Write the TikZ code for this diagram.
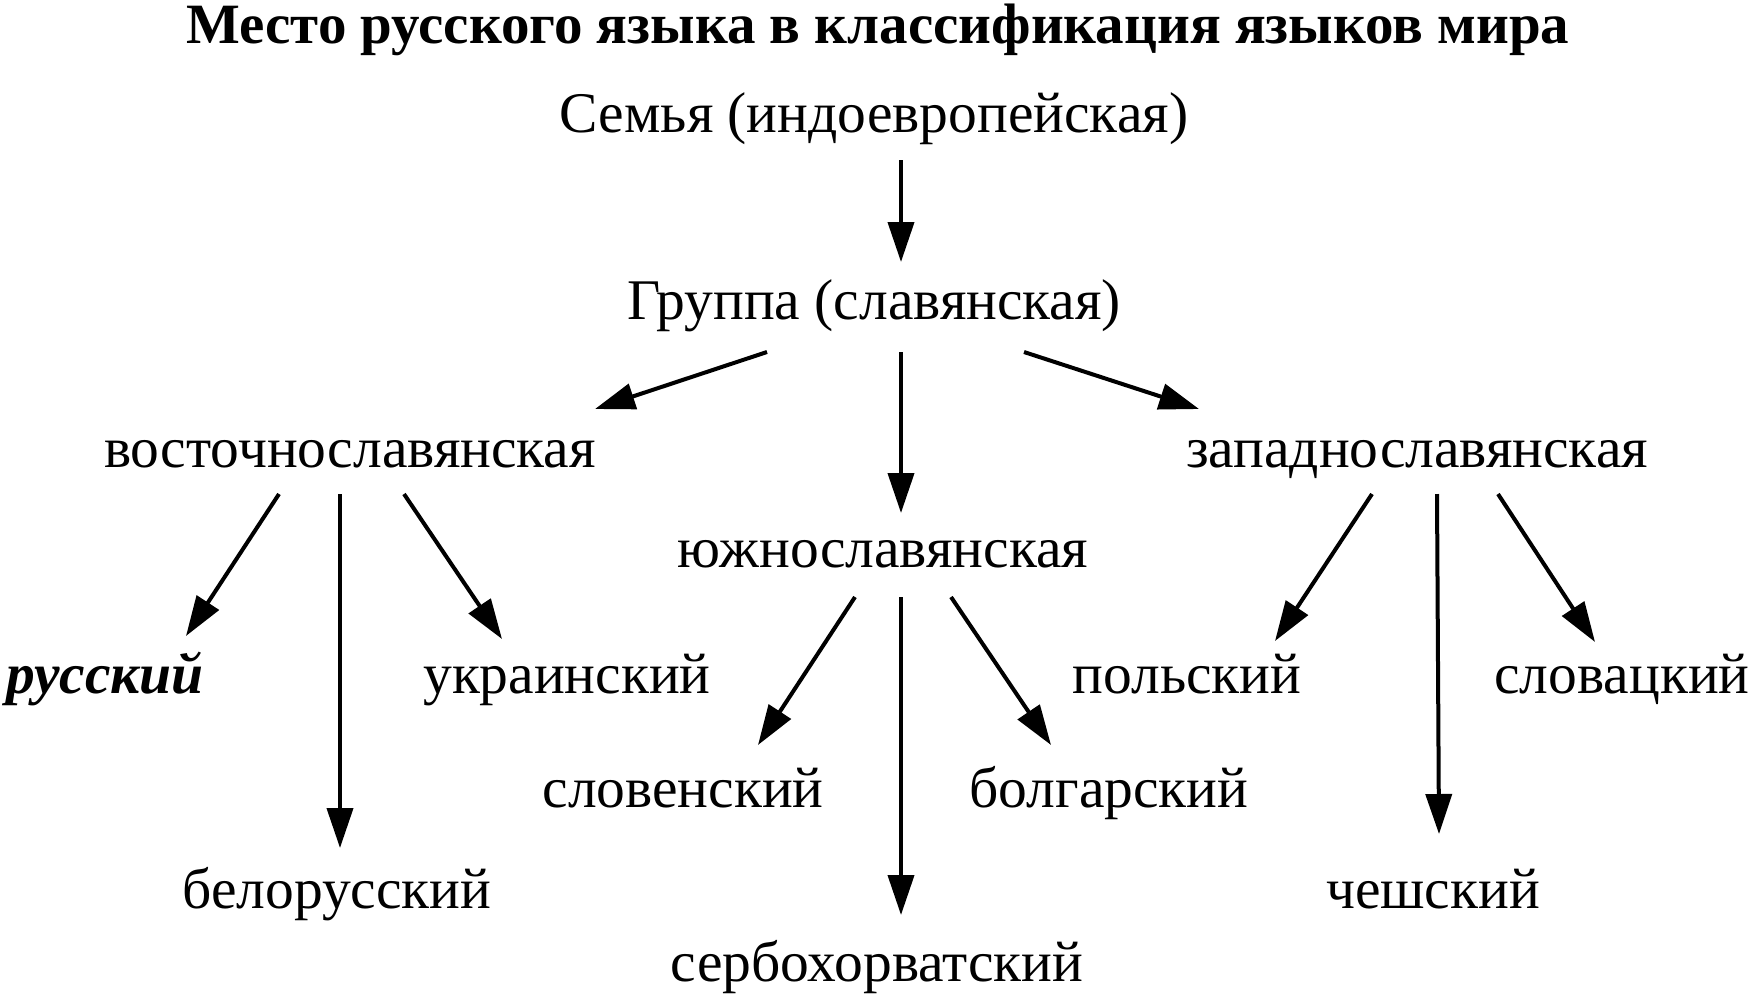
\documentclass[tikz,border=0pt]{standalone}
\usepackage{fontspec}
\setmainfont{Liberation Serif}
\usetikzlibrary{arrows.meta}
\begin{document}
\begin{tikzpicture}[x=1pt,y=-1pt,
  lbl/.style={inner sep=0pt, anchor=base, font=\fontsize{57.5}{62}\selectfont},
  ttl/.style={inner sep=0pt, anchor=base, font=\fontsize{57}{62}\selectfont\bfseries},
  arr/.style={line width=4pt, -{Triangle[length=40pt,width=26pt]}}]
\useasboundingbox (0,0) rectangle (1749,997);
\node[ttl] (title) at (878,43) {Место русского языка в классификация языков мира};
\node[lbl] (fam) at (874,132) {Семья (индоевропейская)};
\node[lbl] (grp) at (874,319) {Группа (славянская)};
\node[lbl] (east) at (350,467) {восточнославянская};
\node[lbl] (west) at (1417,467) {западнославянская};
\node[lbl] (south) at (883,567) {южнославянская};
\node[lbl, font=\fontsize{57.5}{62}\selectfont\bfseries\itshape] (rus) at (105,693) {русский};
\node[lbl] (ukr) at (567,693) {украинский};
\node[lbl] (bel) at (337,908) {белорусский};
\node[lbl] (slo) at (683,807) {словенский};
\node[lbl] (bul) at (1109,807) {болгарский};
\node[lbl] (ser) at (877,981) {сербохорватский};
\node[lbl] (pol) at (1187,693) {польский};
\node[lbl] (svk) at (1622,693) {словацкий};
\node[lbl] (cze) at (1433,908) {чешский};
% arrow end points
\coordinate (f1) at (901,160); \coordinate (g0) at (901,262);
\coordinate (g1) at (767,352); \coordinate (e0) at (595,409);
\coordinate (g2) at (901,352); \coordinate (s0) at (901,513);
\coordinate (g3) at (1024,352); \coordinate (w0) at (1199,409);
\coordinate (e1) at (279,494); \coordinate (r0) at (186,636);
\coordinate (e2) at (340,494); \coordinate (b0) at (340,848);
\coordinate (e3) at (404,494); \coordinate (u0) at (502,639);
\coordinate (s1) at (855,597); \coordinate (l0) at (758,745);
\coordinate (s2) at (901,597); \coordinate (h0) at (901,915);
\coordinate (s3) at (951,597); \coordinate (o0) at (1051,745);
\coordinate (w1) at (1372,494); \coordinate (p0) at (1275,641);
\coordinate (w2) at (1437,494); \coordinate (c0) at (1439,834);
\coordinate (w3) at (1498,494); \coordinate (v0) at (1595,642);
\draw[arr] (f1) -- (g0);
\draw[arr] (g1) -- (e0);
\draw[arr] (g2) -- (s0);
\draw[arr] (g3) -- (w0);
\draw[arr] (e1) -- (r0);
\draw[arr] (e2) -- (b0);
\draw[arr] (e3) -- (u0);
\draw[arr] (s1) -- (l0);
\draw[arr] (s2) -- (h0);
\draw[arr] (s3) -- (o0);
\draw[arr] (w1) -- (p0);
\draw[arr] (w2) -- (c0);
\draw[arr] (w3) -- (v0);
\end{tikzpicture}
\end{document}
